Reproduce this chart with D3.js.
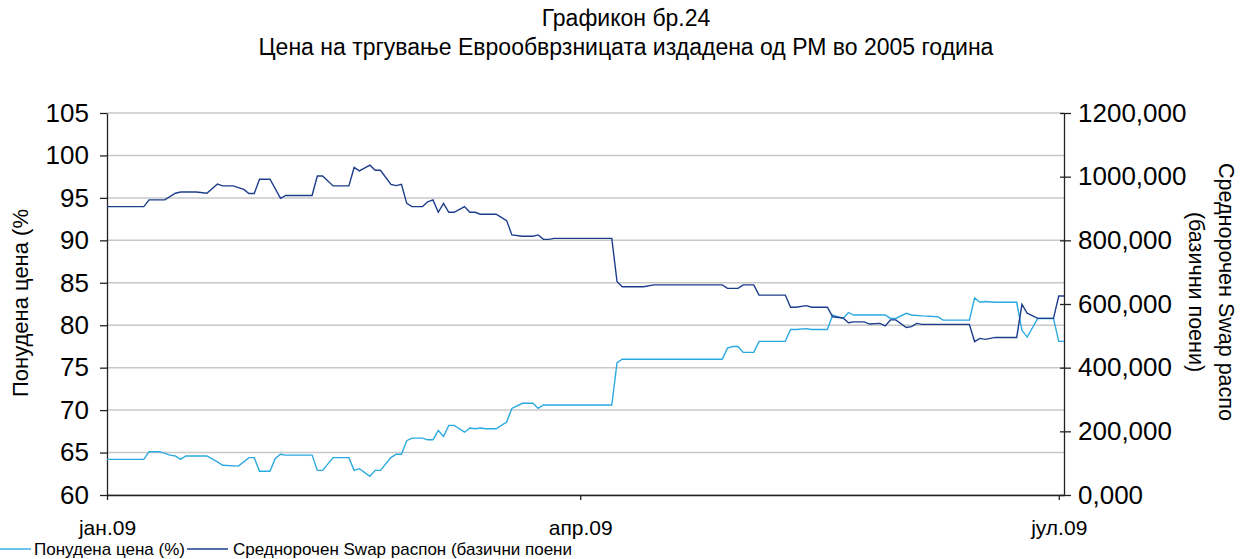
<!DOCTYPE html>
<html lang="mk">
<head>
  <meta charset="UTF-8">
  <title>Графикон бр.24</title>
  <script src="https://d3js.org/d3.v7.min.js"></script>
  <style>
    body { margin: 0; background: #fff; }
    svg { display: block; font-family: "Liberation Sans", Arial, sans-serif; }
  </style>
</head>
<body>
<script>
  // Понудена цена (%) - лева оска
  const priceDates = ["2009-01-01","2009-01-08","2009-01-09","2009-01-11","2009-01-13","2009-01-14","2009-01-15","2009-01-16","2009-01-20","2009-01-22","2009-01-23","2009-01-26","2009-01-28","2009-01-29","2009-01-30","2009-02-01","2009-02-02","2009-02-03","2009-02-04","2009-02-09","2009-02-10","2009-02-11","2009-02-13","2009-02-16","2009-02-17","2009-02-18","2009-02-20","2009-02-21","2009-02-22","2009-02-24","2009-02-25","2009-02-26","2009-02-27","2009-02-28","2009-03-02","2009-03-03","2009-03-04","2009-03-05","2009-03-06","2009-03-07","2009-03-08","2009-03-10","2009-03-11","2009-03-12","2009-03-13","2009-03-14","2009-03-16","2009-03-18","2009-03-19","2009-03-21","2009-03-23","2009-03-24","2009-03-25","2009-04-07","2009-04-08","2009-04-09","2009-04-28","2009-04-29","2009-04-30","2009-05-01","2009-05-02","2009-05-04","2009-05-05","2009-05-10","2009-05-11","2009-05-12","2009-05-14","2009-05-15","2009-05-18","2009-05-19","2009-05-21","2009-05-22","2009-05-23","2009-05-29","2009-05-30","2009-05-31","2009-06-02","2009-06-03","2009-06-05","2009-06-08","2009-06-09","2009-06-14","2009-06-15","2009-06-16","2009-06-17","2009-06-19","2009-06-23","2009-06-24","2009-06-25","2009-06-27","2009-06-30","2009-07-01","2009-07-02"];
  const priceValues = [64.2,64.2,65.1,65.1,64.7,64.6,64.2,64.6,64.6,63.9,63.5,63.4,64.4,64.4,62.8,62.8,64.3,64.8,64.7,64.7,62.9,62.9,64.4,64.4,62.9,63.1,62.2,62.9,62.9,64.4,64.8,64.8,66.4,66.7,66.7,66.5,66.5,67.6,66.9,68.2,68.2,67.4,67.9,67.8,67.9,67.8,67.8,68.6,70.2,70.8,70.8,70.2,70.6,70.6,75.6,76.0,76.0,77.3,77.5,77.5,76.8,76.8,78.1,78.1,79.5,79.5,79.6,79.5,79.5,81.2,80.8,81.5,81.2,81.2,80.8,80.8,81.4,81.2,81.1,81.0,80.6,80.6,83.2,82.7,82.8,82.7,82.7,79.4,78.6,80.8,80.8,78.1,78.1];

  // Среднорочен Swap распон (базични поени) - десна оска
  const swapDates = ["2009-01-01","2009-01-08","2009-01-09","2009-01-12","2009-01-14","2009-01-15","2009-01-18","2009-01-20","2009-01-22","2009-01-23","2009-01-25","2009-01-27","2009-01-28","2009-01-29","2009-01-30","2009-02-01","2009-02-03","2009-02-04","2009-02-09","2009-02-10","2009-02-11","2009-02-13","2009-02-16","2009-02-17","2009-02-18","2009-02-20","2009-02-21","2009-02-22","2009-02-24","2009-02-25","2009-02-26","2009-02-27","2009-02-28","2009-03-02","2009-03-03","2009-03-04","2009-03-05","2009-03-06","2009-03-07","2009-03-08","2009-03-10","2009-03-11","2009-03-12","2009-03-13","2009-03-16","2009-03-17","2009-03-18","2009-03-19","2009-03-21","2009-03-23","2009-03-24","2009-03-25","2009-03-26","2009-03-27","2009-04-07","2009-04-08","2009-04-09","2009-04-13","2009-04-15","2009-04-28","2009-04-29","2009-05-01","2009-05-02","2009-05-04","2009-05-05","2009-05-10","2009-05-11","2009-05-12","2009-05-14","2009-05-15","2009-05-18","2009-05-19","2009-05-21","2009-05-22","2009-05-23","2009-05-25","2009-05-26","2009-05-28","2009-05-29","2009-05-30","2009-05-31","2009-06-02","2009-06-03","2009-06-04","2009-06-05","2009-06-14","2009-06-15","2009-06-16","2009-06-17","2009-06-19","2009-06-23","2009-06-24","2009-06-25","2009-06-27","2009-06-30","2009-07-01","2009-07-02"];
  const swapValues = [906,906,927,927,948,952,952,948,977,971,971,960,947,947,992,992,932,941,941,1002,1002,971,971,1029,1018,1036,1020,1020,976,972,976,916,906,906,921,927,888,916,888,888,906,888,888,882,882,872,862,817,813,813,817,803,803,806,806,670,654,654,660,660,649,649,660,660,628,628,590,590,595,590,590,560,556,541,544,544,537,539,531,550,550,526,529,539,536,536,482,492,489,495,495,599,571,555,555,625,625];

  const leftTicks = [60, 65, 70, 75, 80, 85, 90, 95, 100, 105];
  const rightTicks = [0, 200, 400, 600, 800, 1000, 1200];
  const monthTicks = ["2009-01-01", "2009-04-01", "2009-07-01"];
  const monthLabels = ["јан.09", "апр.09", "јул.09"];

  const width = 1248, height = 559;
  const plot = { left: 107, right: 1064, top: 113, bottom: 495 };
  const lightBlue = "#2ba9e1", darkBlue = "#1c3c8c";

  const parse = d3.timeParse("%Y-%m-%d");
  const price = priceDates.map((d, i) => ({ date: parse(d), value: priceValues[i] }));
  const swap = swapDates.map((d, i) => ({ date: parse(d), value: swapValues[i] }));

  const svg = d3.select("body").append("svg")
    .attr("width", width)
    .attr("height", height);

  const x = d3.scaleTime()
    .domain([parse("2009-01-01"), parse("2009-07-02")])
    .range([plot.left, plot.right]);
  const yLeft = d3.scaleLinear().domain([60, 105]).range([plot.bottom, plot.top]);
  const yRight = d3.scaleLinear().domain([0, 1200]).range([plot.bottom, plot.top]);

  // наслов
  const title = svg.append("g").attr("text-anchor", "middle").attr("fill", "#000");
  title.append("text").attr("x", 626).attr("y", 26).style("font-size", "23px").text("Графикон бр.24");
  title.append("text").attr("x", 626).attr("y", 55).style("font-size", "23px")
    .text("Цена на тргување Еврообврзницата издадена од РМ во 2005 година");

  // мрежа
  svg.append("g").selectAll("line")
    .data(leftTicks)
    .join("line")
    .attr("x1", plot.left).attr("x2", plot.right)
    .attr("y1", d => yLeft(d)).attr("y2", d => yLeft(d))
    .attr("stroke", "#c8c8c8")
    .attr("stroke-width", 1.5);

  // оски
  const mkFmt = d3.formatLocale({ decimal: ",", thousands: ".", grouping: [3], currency: ["", ""] }).format(".3f");

  const axL = svg.append("g")
    .attr("transform", `translate(${plot.left},0)`)
    .call(d3.axisLeft(yLeft).tickValues(leftTicks).tickSize(7).tickPadding(11).tickSizeOuter(0));

  const axR = svg.append("g")
    .attr("transform", `translate(${plot.right},0)`)
    .call(d3.axisRight(yRight).tickValues(rightTicks).tickFormat(mkFmt).tickSize(7).tickPadding(7).tickSizeOuter(0));
  axR.selectAll(".tick line").attr("x1", -4);

  const axB = svg.append("g")
    .attr("transform", `translate(0,${plot.bottom})`)
    .call(d3.axisBottom(x).tickValues(monthTicks.map(parse))
      .tickFormat((d, i) => monthLabels[i]).tickSize(5).tickSizeOuter(0));

  [axL, axR, axB].forEach(g => {
    g.select(".domain").attr("stroke", "#222").attr("stroke-width", 1.3);
    g.selectAll(".tick line").attr("stroke", "#222").attr("stroke-width", 1.3);
    g.selectAll("text").attr("fill", "#000").style("font-family", "Liberation Sans, Arial, sans-serif");
  });
  axL.selectAll("text").style("font-size", "26px");
  axR.selectAll("text").style("font-size", "26px");
  axB.selectAll("text").style("font-size", "21px").attr("dy", null).attr("y", 40);

  // наслови на оските
  svg.append("text")
    .attr("transform", "translate(28,303) rotate(-90)")
    .attr("text-anchor", "middle")
    .style("font-size", "22px")
    .text("Понудена цена (%");

  const rt = svg.append("text")
    .attr("transform", "translate(1219,292) rotate(90)")
    .attr("text-anchor", "middle")
    .style("font-size", "21.5px");
  rt.append("tspan").attr("x", 0).attr("y", 0).text("Среднорочен Swap распо");
  rt.append("tspan").attr("x", 0).attr("y", 30).text("(базични поени)");

  // линии
  const lineL = d3.line().x(d => x(d.date)).y(d => yLeft(d.value));
  const lineR = d3.line().x(d => x(d.date)).y(d => yRight(d.value));

  svg.append("path").datum(price)
    .attr("d", lineL).attr("fill", "none")
    .attr("stroke", lightBlue).attr("stroke-width", 1.4);
  svg.append("path").datum(swap)
    .attr("d", lineR).attr("fill", "none")
    .attr("stroke", darkBlue).attr("stroke-width", 1.4);

  // легенда
  const lg = svg.append("g").style("font-size", "17px");
  lg.append("line").attr("x1", 0).attr("x2", 31).attr("y1", 549).attr("y2", 549)
    .attr("stroke", lightBlue).attr("stroke-width", 1.4);
  lg.append("text").attr("x", 34).attr("y", 555).text("Понудена цена (%)");
  lg.append("line").attr("x1", 187).attr("x2", 228).attr("y1", 549).attr("y2", 549)
    .attr("stroke", darkBlue).attr("stroke-width", 1.4);
  lg.append("text").attr("x", 233).attr("y", 555).text("Среднорочен Swap распон (базични поени");
</script>
</body>
</html>
